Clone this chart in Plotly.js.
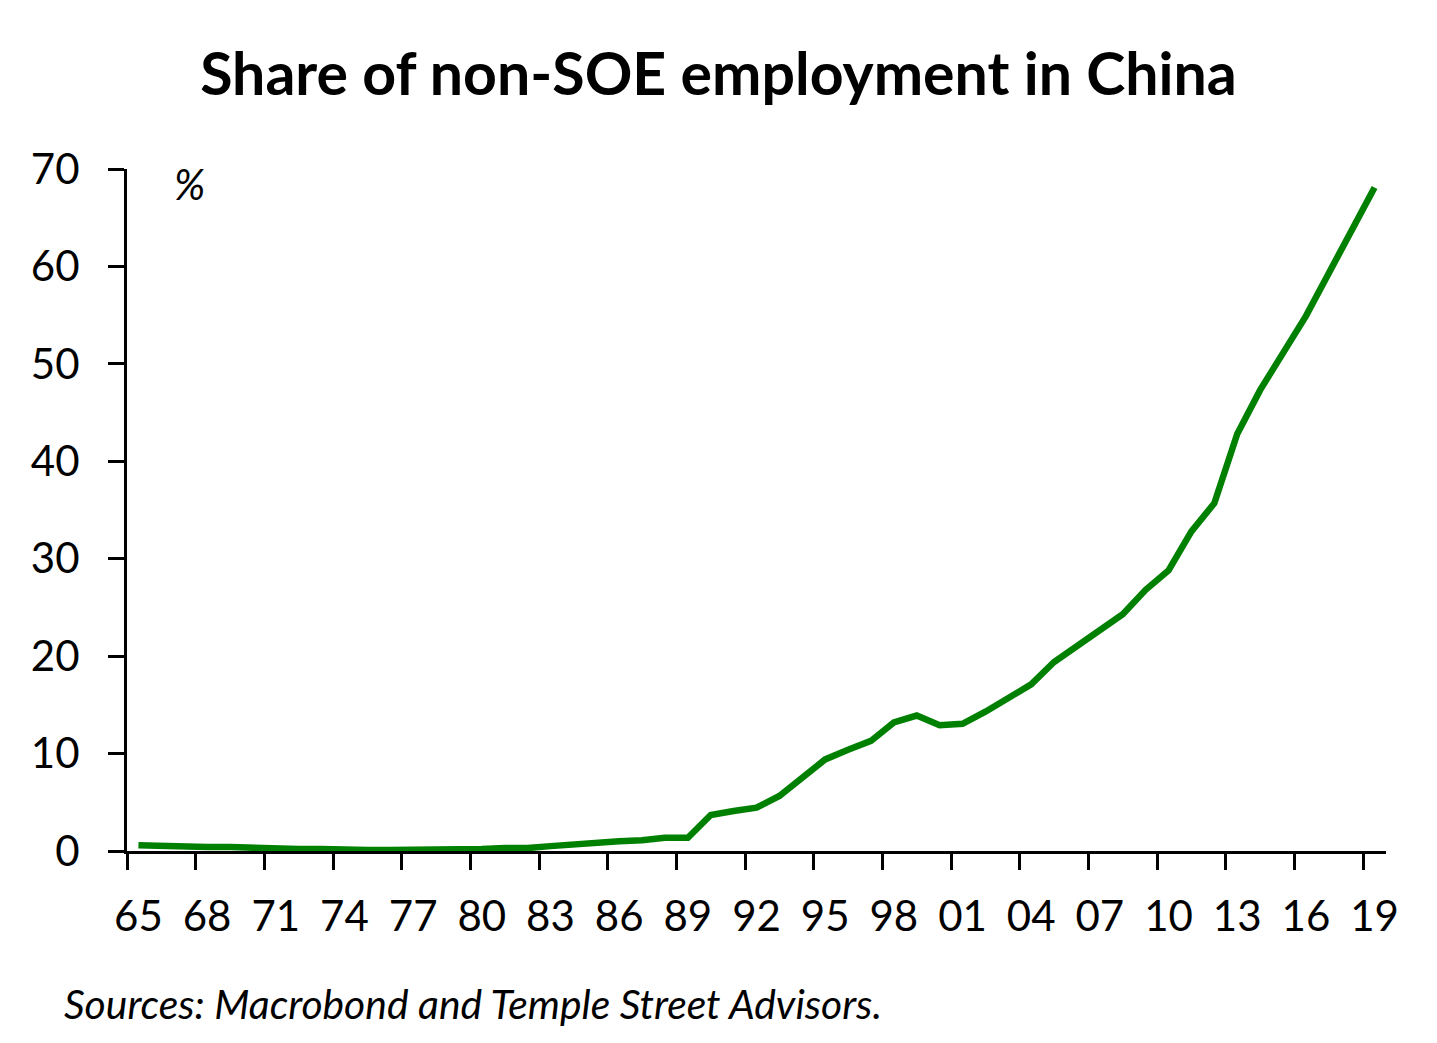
<!DOCTYPE html>
<html>
<head>
<meta charset="utf-8">
<script src="https://cdn.plot.ly/plotly-3.0.1.min.js"></script>
<style>
  html, body { margin: 0; padding: 0; background: #fff; }
  #chart { width: 1437px; height: 1043px; }
</style>
</head>
<body>
<div id="chart"></div>
<script>
const years = [];
for (let y = 1965; y <= 2019; y++) years.push(y);

const shareNonSOE = [
  0.6, 0.5, 0.5, 0.4, 0.4, 0.3, 0.2, 0.2, 0.2, 0.1,
  0.1, 0.1, 0.1, 0.1, 0.1, 0.2, 0.3, 0.3, 0.5, 0.7,
  0.87, 1.0, 1.1, 1.35, 1.35, 3.7, 4.1, 4.45, 5.65, 7.5,
  9.4, 10.4, 11.3, 13.2, 13.9, 12.9, 13.05, 14.3, 15.7, 17.1,
  19.4, 21.1, 22.8, 24.3, 26.8, 28.8, 32.8, 35.7, 42.8, 47.3,
  51.1, 54.9, 59.3, 63.7, 68.1
];

const xTickYears = years.filter((y, i) => i % 3 === 0);
const xTickText = xTickYears.map(y => String(y % 100).padStart(2, '0'));
const xBoundaryTicks = xTickYears.map(y => y - 0.5);
const yTicks = [0, 10, 20, 30, 40, 50, 60, 70];

const FONT = 'Lato, "Open Sans", sans-serif';

const trace = {
  x: years,
  y: shareNonSOE,
  type: 'scatter',
  mode: 'lines',
  line: { color: '#008000', width: 6.5 },
  hoverinfo: 'x+y'
};

const layout = {
  width: 1437,
  height: 1043,
  margin: { l: 127, r: 51, t: 169, b: 192 },
  paper_bgcolor: '#ffffff',
  plot_bgcolor: '#ffffff',
  showlegend: false,
  font: { family: FONT, color: '#000000' },
  title: {
    text: 'Share of non-SOE employment in China',
    font: { family: FONT, size: 59, weight: 'bold', color: '#000' },
    xref: 'container', x: 0.5, xanchor: 'center',
    yref: 'container', y: 1 - 74 / 1043, yanchor: 'middle'
  },
  xaxis: {
    range: [1964.5, 2019.5],
    tickmode: 'array',
    tickvals: xTickYears,
    ticktext: xTickText,
    ticks: '',
    showgrid: false,
    zeroline: false,
    showline: true,
    linecolor: '#000',
    linewidth: 3,
    tickfont: { family: FONT, size: 42, color: '#000' },
    ticklabelstandoff: 27,
    minor: {
      tickmode: 'array',
      tickvals: xBoundaryTicks,
      ticks: 'outside',
      ticklen: 16,
      tickwidth: 3,
      tickcolor: '#000',
      showgrid: false
    },
    fixedrange: true
  },
  yaxis: {
    range: [0, 70],
    tickmode: 'array',
    tickvals: yTicks,
    ticks: 'outside',
    ticklen: 16,
    tickwidth: 3,
    tickcolor: '#000',
    showgrid: false,
    zeroline: false,
    showline: true,
    linecolor: '#000',
    linewidth: 3,
    tickfont: { family: FONT, size: 42, color: '#000' },
    ticklabelstandoff: 20,
    fixedrange: true
  },
  annotations: [
    {
      text: '%',
      xref: 'paper', yref: 'paper',
      x: (189 - 127) / 1259, y: (851 - 184) / 682,
      xanchor: 'center', yanchor: 'middle',
      showarrow: false,
      font: { family: FONT, size: 42, style: 'italic', color: '#000' }
    },
    {
      text: 'Sources: Macrobond and Temple Street Advisors.',
      xref: 'paper', yref: 'paper',
      x: (62 - 127) / 1259, y: -(1003 - 851) / 682,
      xanchor: 'left', yanchor: 'middle',
      showarrow: false,
      font: { family: FONT, size: 40.8, style: 'italic', color: '#000' }
    }
  ]
};

Plotly.newPlot('chart', [trace], layout, { displayModeBar: false, staticPlot: true });
</script>
</body>
</html>
